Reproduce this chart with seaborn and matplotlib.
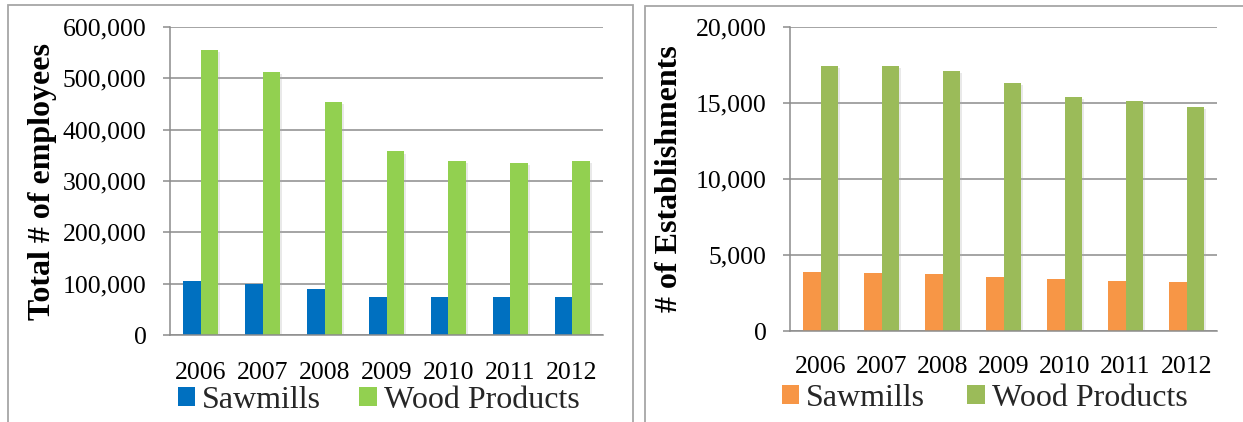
import matplotlib
matplotlib.use("Agg")
import matplotlib.pyplot as plt
import matplotlib.patheffects as pe
from matplotlib.patches import Rectangle, Patch
from matplotlib.ticker import FuncFormatter, MultipleLocator
import pandas as pd
import seaborn as sns

years = ["2006", "2007", "2008", "2009", "2010", "2011", "2012"]
series = ["Sawmills", "Wood Products"]

employees_sawmills = [105000, 99500, 90000, 74500, 73800, 75000, 75000]
employees_wood = [555000, 513000, 454500, 357500, 338500, 336000, 338500]

estab_sawmills = [3860, 3815, 3730, 3575, 3420, 3290, 3200]
estab_wood = [17410, 17410, 17105, 16295, 15415, 15130, 14715]

left_colors = ["#0070C0", "#92D050"]
right_colors = ["#F79646", "#9BBB59"]

GRID = "#8C8C8C"
W, H, DPI = 1243, 422, 100

sns.set_theme(style="white")
plt.rcParams["font.family"] = ["Liberation Serif", "DejaVu Serif"]


def long_table(a, b):
    return pd.DataFrame({
        "year": years * 2,
        "series": [series[0]] * len(years) + [series[1]] * len(years),
        "value": list(a) + list(b),
    })


fig = plt.figure(figsize=(W / DPI, H / DPI), dpi=DPI)
fig.patch.set_facecolor("white")

# panel frames
for x0, y0, w in [(8, 5, 625), (645, 6, 700)]:
    fig.patches.append(Rectangle((x0 / W, 1 - 500 / H), w / W, (500 - y0) / H,
                                 transform=fig.transFigure, fill=False,
                                 edgecolor="#A6A6A6", linewidth=1.3))


def px_axes(l, r, t, b):
    return fig.add_axes([l / W, 1 - b / H, (r - l) / W, (b - t) / H])


def draw(ax, df, colors, ymax, step, ylabel, label_x, xpad, legend_xy, colspace):
    sns.barplot(data=df, x="year", y="value", hue="series", order=years,
                hue_order=series, palette=colors, width=0.565, gap=0,
                saturation=1, linewidth=0, legend=False, ax=ax)
    for bar in ax.patches:
        bar.set_path_effects([pe.SimplePatchShadow(offset=(1.5, -1.5), shadow_rgbFace="#AAAAAA",
                                                   alpha=0.25), pe.Normal()])
    ax.set_ylim(0, ymax)
    ax.set_xlim(-0.5, len(years) - 0.5)
    ax.yaxis.set_major_locator(MultipleLocator(step))
    ax.yaxis.set_major_formatter(FuncFormatter(lambda v, p: f"{int(v):,}"))
    ax.set_axisbelow(True)
    ax.grid(axis="y", color=GRID, linewidth=1.1)
    ax.grid(axis="x", visible=False)
    for s in ["top", "right"]:
        ax.spines[s].set_visible(False)
    for s in ["left", "bottom"]:
        ax.spines[s].set_color(GRID)
        ax.spines[s].set_linewidth(1.1)
    ax.tick_params(axis="y", length=5, width=1.1, color=GRID, pad=12,
                   labelsize=18.5, labelcolor="black", direction="out", left=True)
    ax.tick_params(axis="x", length=0, pad=xpad, labelsize=18.5, labelcolor="black")
    ax.set_xlabel("")
    ax.set_ylabel(ylabel, fontsize=23, fontweight="bold", color="black")
    ax.yaxis.set_label_coords(label_x, 0.5)
    handles = [Patch(facecolor=c, edgecolor="none") for c in colors]
    ax.legend(handles, series, loc="center left", bbox_to_anchor=legend_xy,
              ncol=2, frameon=False, fontsize=23, handlelength=0.54, handleheight=0.54,
              handletextpad=0.22, columnspacing=colspace, borderpad=0, borderaxespad=0)


ax1 = px_axes(170, 603, 27, 335)
draw(ax1, long_table(employees_sawmills, employees_wood), left_colors, 600000, 100000,
     "Total # of employees", -0.262, 19.5, (0.018, -0.212), 1.2)

ax2 = px_axes(790, 1217, 27, 331)
draw(ax2, long_table(estab_sawmills, estab_wood), right_colors, 20000, 5000,
     "# of Establishments", -0.248, 18, (-0.019, -0.222), 1.32)

fig.savefig("out.png", dpi=DPI, facecolor="white")
